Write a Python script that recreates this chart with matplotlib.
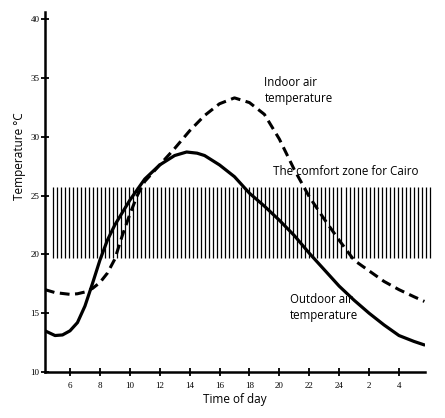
import numpy as np
import matplotlib.pyplot as plt

# hours run past midnight: 26 = 2 am, 28 = 4 am
outdoor_hours = [4.33, 5.0, 5.5, 6, 6.5, 7, 7.5, 8, 8.5, 9, 10, 11, 12, 13, 13.8, 14.5, 15, 16, 17,
                 18, 19, 20, 21, 22, 23, 24, 25, 26, 27, 28, 29, 29.7]
outdoor_temp = [13.5, 13.1, 13.15, 13.5, 14.2, 15.6, 17.5, 19.5, 21.2, 22.5, 24.6, 26.4, 27.6, 28.4, 28.7,
                28.6, 28.4, 27.6, 26.6, 25.2, 24.1, 22.9, 21.6, 20.1, 18.7, 17.3, 16.1, 15.0, 14.0, 13.1,
                12.6, 12.3]

indoor_hours = [4.33, 5, 6, 6.5, 7, 7.5, 8, 8.5, 9, 9.5, 10, 10.5, 11, 12, 13, 14, 15, 16, 17, 18, 19,
                20, 21, 22, 23, 24, 25, 26, 27, 28, 29, 29.7]
indoor_temp = [17.0, 16.75, 16.6, 16.65, 16.8, 17.1, 17.6, 18.4, 19.6, 21.6, 23.4, 25.0, 26.2, 27.6, 29.0,
               30.5, 31.8, 32.8, 33.3, 32.9, 31.9, 29.8, 27.2, 24.9, 23.0, 21.2, 19.5, 18.6, 17.7, 17.0,
               16.4, 16.0]

comfort_low = 19.7
comfort_high = 25.7

tick_hours = [6, 8, 10, 12, 14, 16, 18, 20, 22, 24, 26, 28]
tick_labels = ["6", "8", "10", "12", "14", "16", "18", "20", "22", "24", "2", "4"]
y_ticks = [10, 15, 20, 25, 30, 35, 40]

fig = plt.figure(figsize=(4.45, 4.18), dpi=100)
ax = fig.add_axes([45 / 445, 46 / 418, 380 / 445, (372 - 12) / 418])

ax.set_xlim(4.33, 29.74)
ax.set_ylim(10, 40.6)

# hatched comfort band, drawn as thin vertical strokes
hatch_x = np.arange(4.86, 30.3, 0.268)
ax.vlines(hatch_x, comfort_low, comfort_high, color="black", lw=0.9, clip_on=False)

ax.plot(outdoor_hours, outdoor_temp, color="black", lw=2.3, solid_capstyle="round")
ax.plot(indoor_hours, indoor_temp, color="black", lw=2.2, dashes=(3.2, 1.8))

for s in ["top", "right"]:
    ax.spines[s].set_visible(False)
for s in ["left", "bottom"]:
    ax.spines[s].set_linewidth(1.8)

ax.set_xticks(tick_hours)
ax.set_xticklabels(tick_labels, family="Liberation Serif", fontsize=6.5)
ax.set_yticks(y_ticks)
ax.set_yticklabels([str(v) for v in y_ticks], family="Liberation Serif", fontsize=6.5)
ax.tick_params(axis="both", direction="inout", length=6, width=1.3)
ax.tick_params(axis="x", pad=4)
ax.tick_params(axis="y", pad=1)

ax.set_xlabel("Time of day", family="Open Sans", fontsize=8.5, labelpad=2)
ax.set_ylabel("Temperature °C", family="Open Sans", fontsize=8.5)
ax.yaxis.set_label_coords(-0.05, 0.6)

ax.text(19.0, 33.9, "Indoor air\ntemperature", family="Open Sans", fontsize=8.3, va="center",
        linespacing=1.3)
ax.text(19.6, 27.0, "The comfort zone for Cairo", family="Open Sans", fontsize=8.4, va="center")
ax.text(20.7, 15.5, "Outdoor air\ntemperature", family="Open Sans", fontsize=8.3, va="center",
        linespacing=1.3)

fig.savefig("out.png", dpi=100)
